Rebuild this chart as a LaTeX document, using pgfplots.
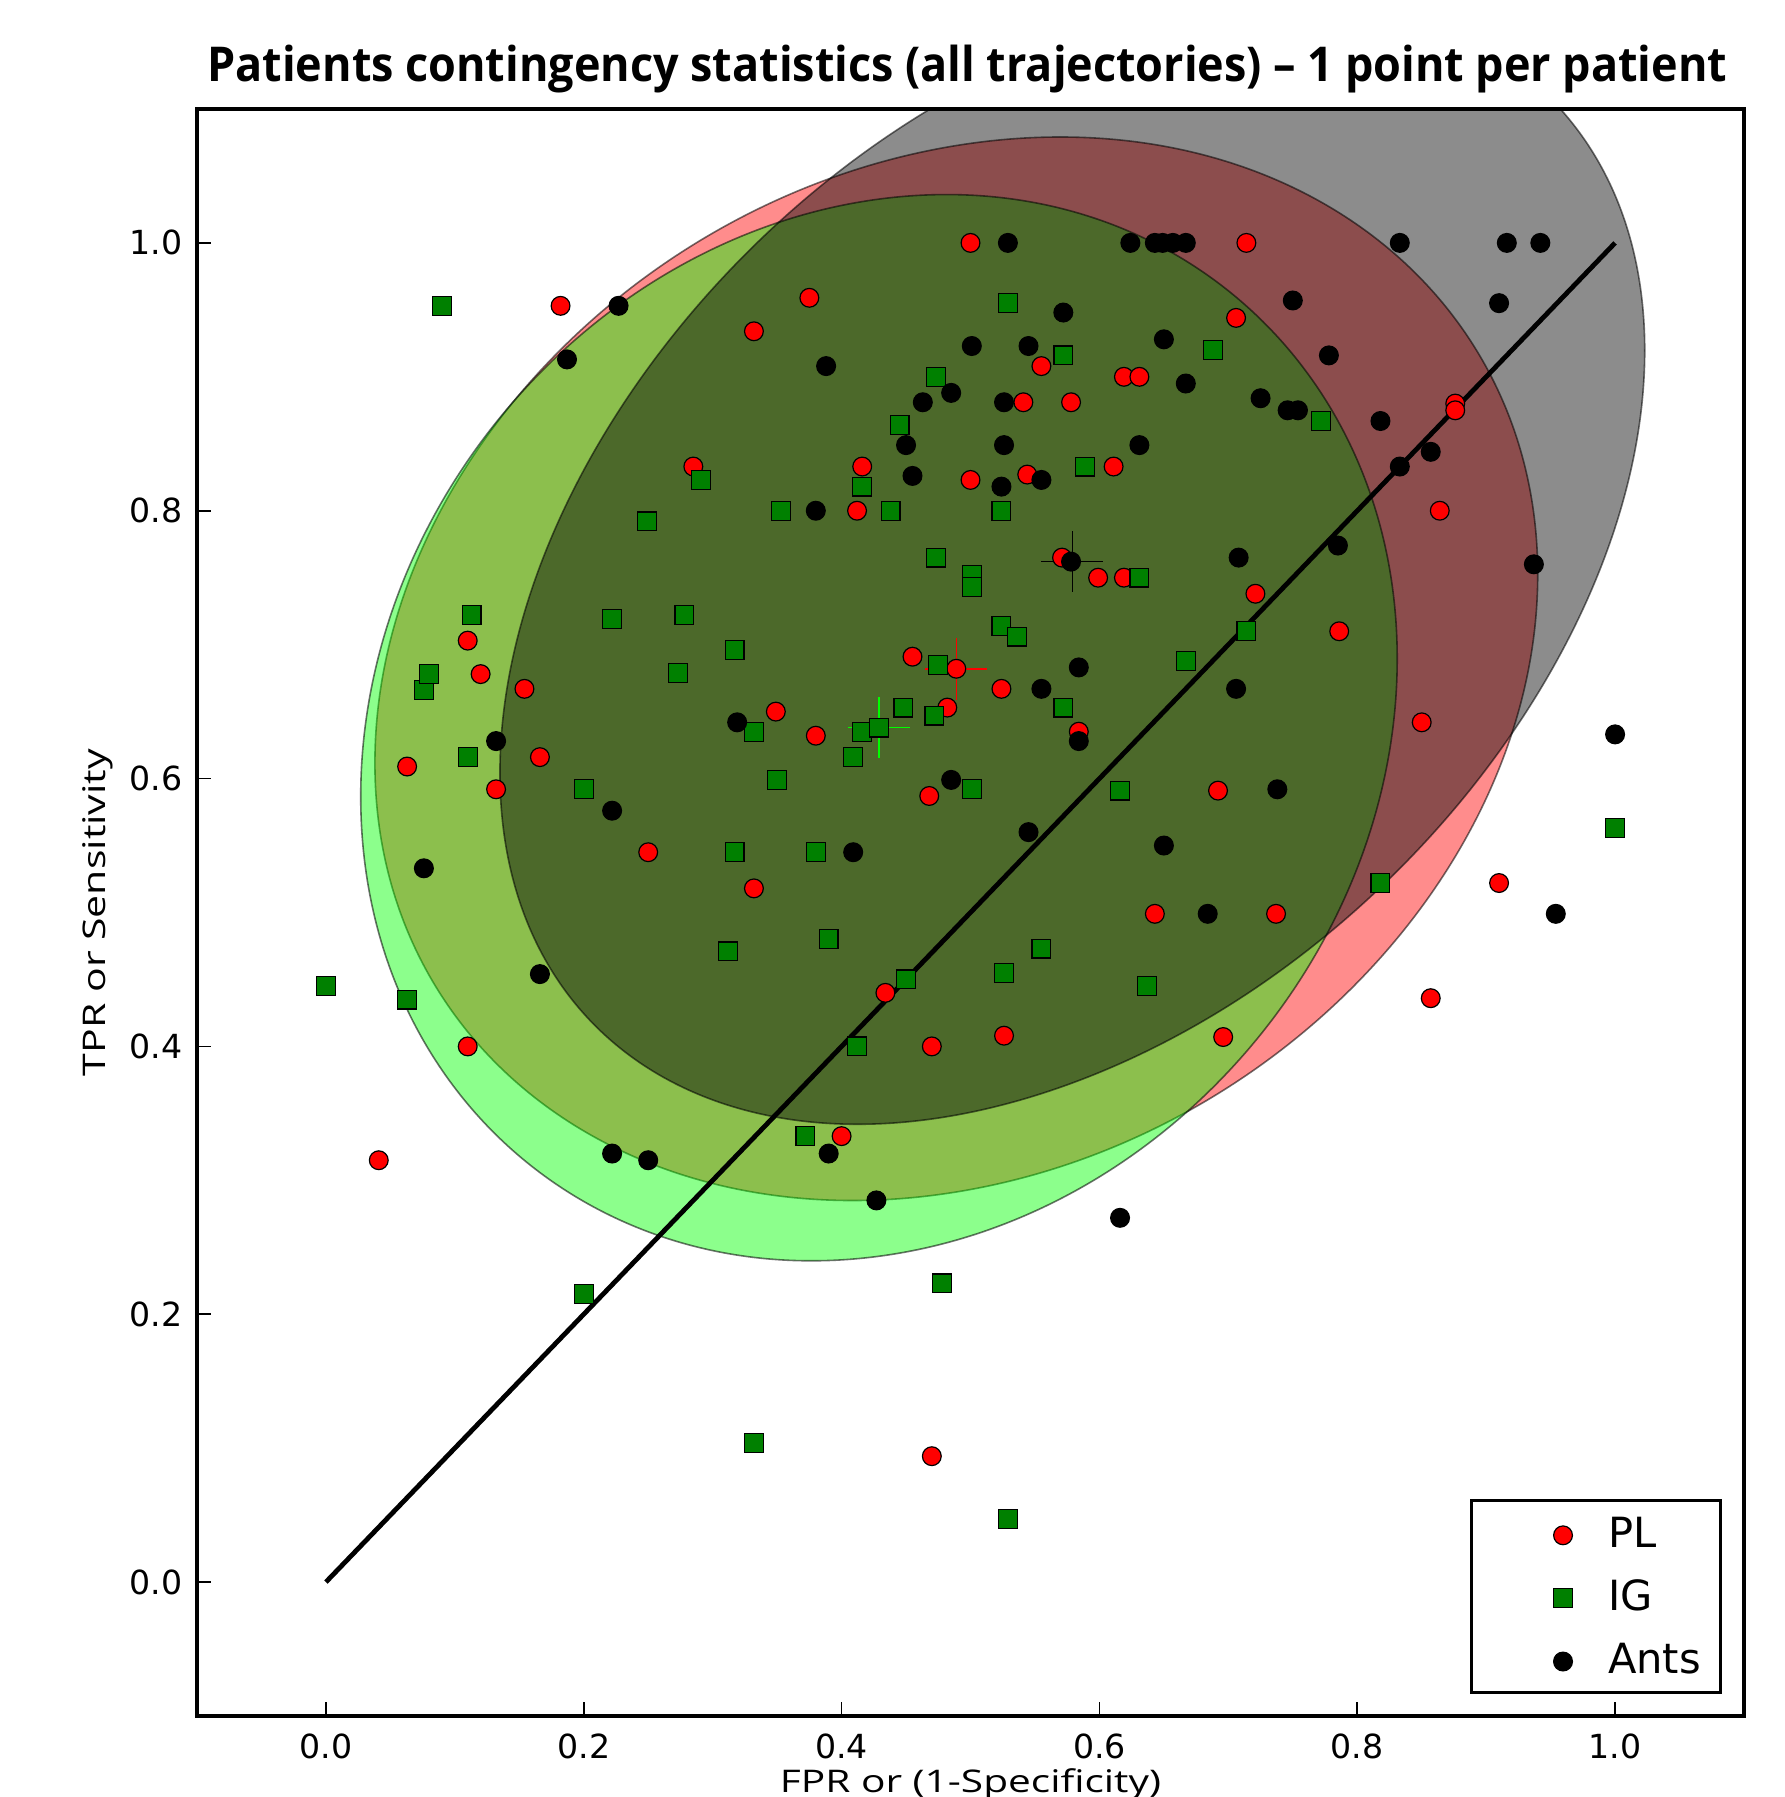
\documentclass[border=0pt]{standalone}
\usepackage{fontspec}
\usepackage{graphicx}
\usepackage{pgfplots}
\pgfplotsset{compat=1.18}
\newfontfamily\dejavu{DejaVu Sans}
\newfontfamily\opensans{Open Sans}

\definecolor{igreen}{RGB}{0,128,0}

% scatter data, one point per patient
\pgfplotstableread{
x y
0.041 0.315
0.063 0.609
0.110 0.703
0.120 0.678
0.110 0.400
0.132 0.592
0.154 0.667
0.166 0.616
0.182 0.953
0.250 0.545
0.285 0.833
0.332 0.934
0.332 0.518
0.349 0.650
0.375 0.959
0.380 0.632
0.400 0.333
0.412 0.800
0.416 0.833
0.434 0.440
0.455 0.691
0.468 0.587
0.470 0.400
0.470 0.094
0.482 0.653
0.489 0.682
0.500 1.000
0.500 0.823
0.524 0.667
0.526 0.408
0.541 0.881
0.544 0.827
0.555 0.908
0.571 0.765
0.578 0.881
0.584 0.635
0.599 0.750
0.611 0.833
0.619 0.900
0.619 0.750
0.631 0.900
0.643 0.499
0.692 0.591
0.696 0.407
0.706 0.944
0.714 1.000
0.721 0.738
0.737 0.499
0.786 0.710
0.850 0.642
0.857 0.436
0.864 0.800
0.876 0.880
0.876 0.875
0.910 0.522
}\plTable

\pgfplotstableread{
x y
0.000 0.445
0.063 0.435
0.076 0.666
0.080 0.678
0.090 0.953
0.110 0.616
0.113 0.722
0.200 0.592
0.200 0.215
0.222 0.719
0.249 0.792
0.273 0.679
0.278 0.722
0.291 0.823
0.312 0.471
0.317 0.696
0.317 0.545
0.332 0.635
0.332 0.104
0.350 0.599
0.353 0.800
0.372 0.333
0.380 0.545
0.390 0.480
0.409 0.616
0.412 0.400
0.416 0.818
0.416 0.635
0.429 0.638
0.438 0.800
0.445 0.864
0.448 0.653
0.450 0.450
0.472 0.647
0.473 0.765
0.473 0.900
0.475 0.685
0.478 0.223
0.501 0.752
0.501 0.743
0.501 0.592
0.524 0.800
0.524 0.714
0.526 0.455
0.529 0.955
0.529 0.047
0.536 0.706
0.555 0.473
0.572 0.916
0.572 0.653
0.589 0.833
0.616 0.591
0.631 0.750
0.637 0.445
0.667 0.688
0.688 0.920
0.714 0.710
0.772 0.867
0.818 0.522
1.000 0.563
}\igTable

\pgfplotstableread{
x y
0.076 0.533
0.132 0.628
0.166 0.454
0.187 0.913
0.222 0.576
0.222 0.320
0.227 0.953
0.250 0.315
0.319 0.642
0.380 0.800
0.388 0.908
0.390 0.320
0.409 0.545
0.427 0.285
0.450 0.849
0.455 0.826
0.463 0.881
0.485 0.888
0.485 0.599
0.501 0.923
0.524 0.818
0.526 0.881
0.526 0.849
0.529 1.000
0.545 0.923
0.545 0.560
0.555 0.823
0.555 0.667
0.572 0.948
0.578 0.762
0.584 0.683
0.584 0.628
0.616 0.272
0.624 1.000
0.631 0.849
0.643 1.000
0.649 1.000
0.657 1.000
0.667 1.000
0.650 0.928
0.650 0.550
0.667 0.895
0.684 0.499
0.706 0.667
0.708 0.765
0.725 0.884
0.738 0.592
0.746 0.875
0.754 0.875
0.750 0.957
0.778 0.916
0.785 0.774
0.818 0.867
0.833 0.833
0.833 1.000
0.857 0.844
0.910 0.955
0.916 1.000
0.937 0.760
0.942 1.000
0.954 0.499
1.000 0.633
}\antsTable

% ellipse: colour, centre x, centre y, first axis (dx,dy), second axis (0,dy)
\newcommand{\covellipse}[6]{%
  \pgfplotsextra{%
    \begin{pgfscope}
      \pgfsetfillcolor{#1}\pgfsetfillopacity{0.45}%
      \pgfsetstrokecolor{black}\pgfsetstrokeopacity{0.55}%
      \pgfsetlinewidth{0.4pt}%
      \pgfpathellipse{\pgfplotspointaxisxy{#2}{#3}}%
        {\pgfplotspointaxisdirectionxy{#4}{#5}}%
        {\pgfplotspointaxisdirectionxy{0}{#6}}%
      \pgfusepath{fill,stroke}%
    \end{pgfscope}}}

\begin{document}
\begin{tikzpicture}
\begin{axis}[
  name=ax,
  scale only axis,
  width=386.75pt, height=401.75pt,
  xmin=-0.1, xmax=1.1, ymin=-0.1, ymax=1.1,
  axis on top,
  axis line style={line width=0.8pt},
  xtick={0,0.2,0.4,0.6,0.8,1},
  ytick={0,0.2,0.4,0.6,0.8,1},
  xticklabels={0.0,0.2,0.4,0.6,0.8,1.0},
  yticklabels={0.0,0.2,0.4,0.6,0.8,1.0},
  xtick pos=left, ytick pos=left,
  tick align=inside,
  major tick length=3.5pt,
  tick style={line width=0.4pt, black},
  xticklabel style={font=\dejavu\fontsize{8.3}{10}\selectfont, inner sep=0pt, anchor=north, yshift=-4.25pt},
  yticklabel style={font=\dejavu\fontsize{8.3}{10}\selectfont, inner sep=0pt, anchor=east, xshift=-3.5pt},
  title={\resizebox{380pt}{\height}{\opensans\bfseries\fontsize{12}{14}\selectfont Patients contingency statistics (all trajectories) – 1 point per patient}},
  title style={at={(axis description cs:0.498,1.0168)}, anchor=base, inner sep=0pt, yshift=-6pt},
  xlabel={\resizebox{95.25pt}{\height}{\opensans\fontsize{7.8}{9.4}\selectfont FPR or (1-Specificity)}},
  xlabel style={at={(axis description cs:0.5,-0.0473)}, anchor=base, inner sep=0pt},
  ylabel={\resizebox{81.75pt}{\height}{\opensans\fontsize{7.8}{9.4}\selectfont TPR or Sensitivity}},
  ylabel style={at={(axis description cs:-0.059,0.5)}, anchor=base, inner sep=0pt},
  legend style={at={(axis description cs:0.986,0.0137)}, anchor=south east,
    draw=black, line width=0.75pt, inner xsep=5pt, inner ysep=3.2pt,
    column sep=0pt, row sep=5.6pt,
    font=\dejavu\fontsize{10.4}{12.5}\selectfont,
    nodes={inner sep=0pt}},
  legend cell align=left,
  legend image code/.code={%
    \path[draw=none, fill=none] (-18pt,-3.8pt) rectangle (11.25pt,5.6pt);
    \draw[#1] plot coordinates {(0pt,0pt)};},
]

% confidence ellipses (PL, IG, Ants)
\covellipse{red}{0.489}{0.682}{0.451}{0.0705}{0.3907}
\covellipse{green}{0.429}{0.638}{0.402}{0.0515}{0.3947}
\covellipse{black}{0.579}{0.762}{0.444}{0.1577}{0.3893}

% chance diagonal
\addplot[black, line width=1.2pt, forget plot] coordinates {(0,0) (1,1)};

\addplot[only marks, mark=*, mark size=2.35pt, mark options={fill=red, draw=black, line width=0.3pt}]
  table[x=x, y=y] {\plTable};
\addlegendentry{PL}
\addplot[only marks, mark=square*, mark size=2.35pt, mark options={fill=igreen, draw=black, line width=0.3pt}]
  table[x=x, y=y] {\igTable};
\addlegendentry{IG}
\addplot[only marks, mark=*, mark size=2.35pt, mark options={fill=black, draw=black, line width=0.3pt}]
  table[x=x, y=y] {\antsTable};
\addlegendentry{Ants}

% mean crosses
\addplot[draw=none, mark=none, forget plot,
  error bars/.cd, x dir=both, x explicit, y dir=both, y explicit,
  error mark=none, error bar style={red, line width=0.4pt}]
  coordinates {(0.489,0.682) +- (0.024,0.023)};
\addplot[draw=none, mark=none, forget plot,
  error bars/.cd, x dir=both, x explicit, y dir=both, y explicit,
  error mark=none, error bar style={green, line width=0.4pt}]
  coordinates {(0.429,0.638) +- (0.024,0.023)};
\addplot[draw=none, mark=none, forget plot,
  error bars/.cd, x dir=both, x explicit, y dir=both, y explicit,
  error mark=none, error bar style={black, line width=0.4pt}]
  coordinates {(0.579,0.762) +- (0.024,0.023)};
\end{axis}
\pgfresetboundingbox
\path[use as bounding box] ([xshift=-49.25pt,yshift=-20.25pt]ax.south west) rectangle ([xshift=10.25pt,yshift=27.25pt]ax.north east);
\end{tikzpicture}
\end{document}
